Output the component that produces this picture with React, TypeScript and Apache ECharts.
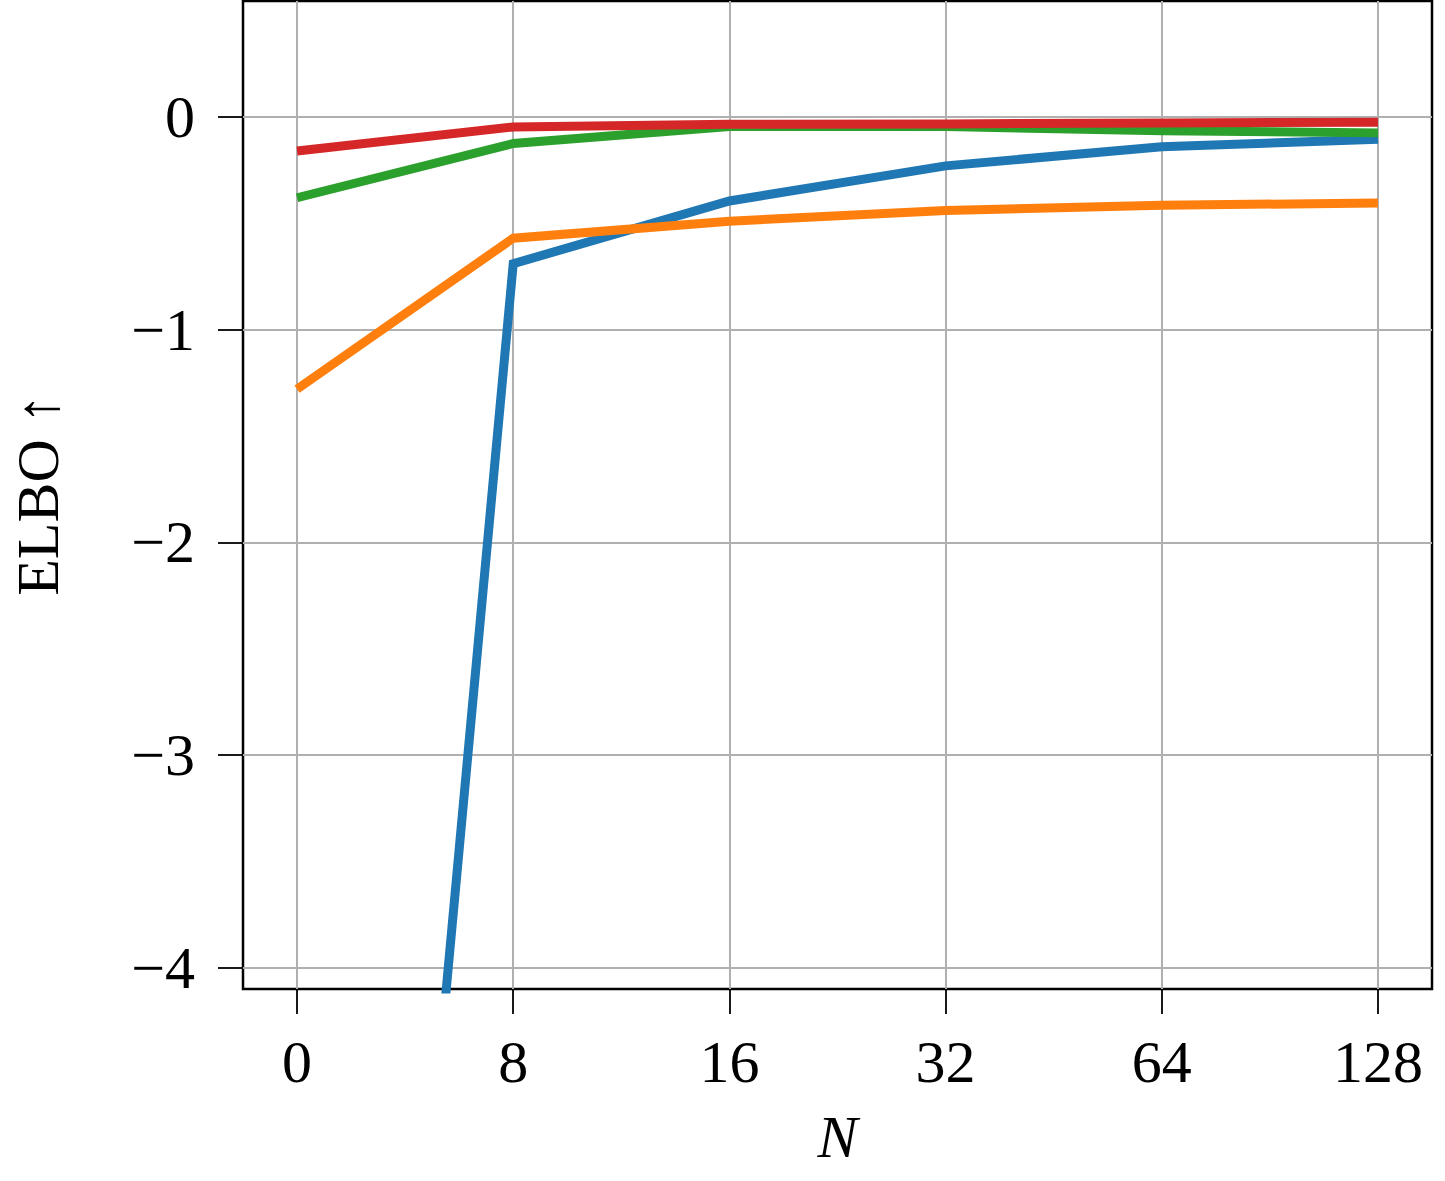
import React, { useEffect, useRef } from "react";
import * as echarts from "echarts";

const N_LABELS = ["0", "8", "16", "32", "64", "128"];
const X_INDEX = [0, 1, 2, 3, 4, 5];
const Y_TICKS = [-4, -3, -2, -1, 0];

const BLUE = [-11.7, -0.69, -0.395, -0.23, -0.14, -0.105];
const ORANGE = [-1.28, -0.57, -0.49, -0.44, -0.415, -0.405];
const GREEN = [-0.38, -0.125, -0.045, -0.045, -0.065, -0.075];
const RED = [-0.16, -0.047, -0.035, -0.033, -0.028, -0.025];

const FONT = "Liberation Serif";

export default function App() {
  const ref = useRef<HTMLDivElement>(null);
  useEffect(() => {
    if (!ref.current) return;
    document.body.style.margin = "0";
    const chart = echarts.init(ref.current, null, { renderer: "svg" });
    const mk = (name: string, vals: number[], color: string) => ({
      name,
      type: "line",
      data: vals.map((v, i) => [X_INDEX[i], v]),
      showSymbol: false,
      symbol: "none",
      clip: true,
      lineStyle: { color, width: 9, cap: "butt", join: "miter" },
      itemStyle: { color },
      silent: true,
    });
    chart.setOption({
      animation: false,
      backgroundColor: "#ffffff",
      grid: {
        left: 242,
        right: 13,
        top: 1,
        bottom: 192,
        show: true,
        borderColor: "#000000",
        borderWidth: 2.5,
        backgroundColor: "transparent",
        containLabel: false,
      },
      xAxis: {
        type: "value",
        min: -0.25,
        max: 5.25,
        axisLine: { show: false, onZero: false },
        axisTick: {
          show: true,
          customValues: X_INDEX,
          length: 25,
          inside: false,
          lineStyle: { color: "#000", width: 1.8 },
        },
        axisLabel: {
          customValues: X_INDEX,
          formatter: (v: number) => N_LABELS[Math.round(v)] ?? "",
          fontFamily: FONT,
          fontSize: 60,
          color: "#000",
          margin: 43,
        },
        splitLine: { show: true, lineStyle: { color: "#b0b0b0", width: 2 } },
        name: "N",
        nameLocation: "middle",
        nameGap: 118,
        nameTextStyle: { fontFamily: FONT, fontStyle: "italic", fontSize: 60, color: "#000" },
      },
      yAxis: {
        type: "value",
        min: -4.1,
        max: 0.545,
        axisLine: { show: false, onZero: false },
        axisTick: {
          show: true,
          customValues: Y_TICKS,
          length: 25,
          inside: false,
          lineStyle: { color: "#000", width: 1.8 },
        },
        axisLabel: {
          customValues: Y_TICKS,
          formatter: (v: number) => (v < 0 ? "\u2212" + Math.abs(v) : String(v)),
          fontFamily: FONT,
          fontSize: 60,
          color: "#000",
          margin: 48,
        },
        splitLine: { show: true, lineStyle: { color: "#b0b0b0", width: 2 } },
        name: "ELBO \u2191",
        nameLocation: "middle",
        nameGap: 175,
        nameRotate: 90,
        nameTextStyle: { fontFamily: FONT, fontSize: 60, color: "#000" },
      },
      series: [
        mk("blue", BLUE, "#1f77b4"),
        mk("orange", ORANGE, "#ff7f0e"),
        mk("green", GREEN, "#2ca02c"),
        mk("red", RED, "#d62728"),
      ],
    });
    return () => chart.dispose();
  }, []);
  return <div ref={ref} style={{ width: 1445, height: 1181 }} />;
}
